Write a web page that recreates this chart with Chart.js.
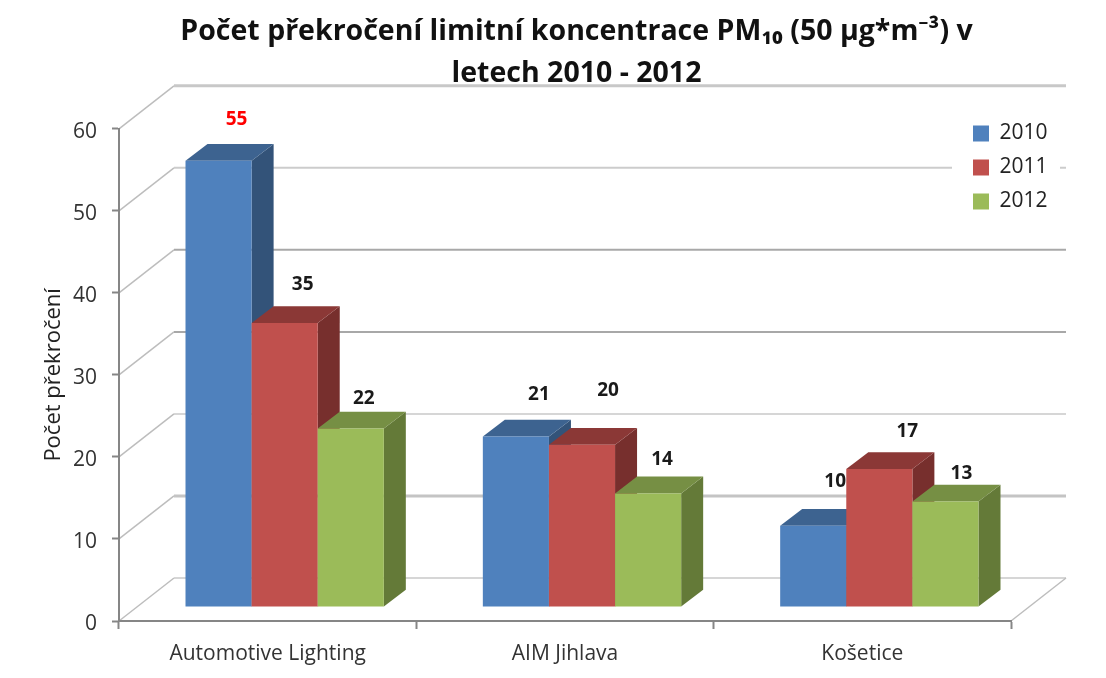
<!DOCTYPE html>
<html>
<head>
<meta charset="utf-8">
<style>
  html, body { margin: 0; background: #fff; }
  canvas { display: block; filter: blur(0.6px); }
</style>
<script src="https://cdn.jsdelivr.net/npm/chart.js@4/dist/chart.umd.min.js"></script>
</head>
<body>
<canvas id="chart" width="1106" height="678"></canvas>
<script>
const categories = ["Automotive Lighting", "AIM Jihlava", "Košetice"];
const years = ["2010", "2011", "2012"];
const values2010 = [55, 21, 10];
const values2011 = [35, 20, 17];
const values2012 = [22, 14, 13];
const yTicks = [0, 10, 20, 30, 40, 50, 60];

const FONT = '"Open Sans", "Noto Sans", "DejaVu Sans", sans-serif';

// excel-style 3d look, all offsets in px
const WALL_DX = 55;
const WALL_DY = -43;
const BAR_DX = 22;
const BAR_DY = -17;
const BAR_SHIFT_X = 17;
const BAR_SHIFT_Y = -14;
const BAR_SQUEEZE = 0.989;

const sideColors = ["#335379", "#772F2D", "#647A38"];
const topColors = ["#3D6390", "#8B3836", "#768F44"];

// the scan made the wall lines uneven, one entry per tick
const wallWidths = [1.5, 3, 1.5, 2, 2, 2, 3];
const wallColors = ["#c8c8c8", "#c4c4c4", "#c8c8c8", "#a8a8a8", "#a8a8a8", "#cccccc", "#c8c8c8"];

// hand placed data labels in the original, [dx, dy] from bar top centre
const labelNudge = [
  [[18, -41], [23, -42], [22, -44]],
  [[18, -38], [26, -54], [28, -37]],
  [[13, -30], [14, -34], [16, -28]],
];

function poly(ctx, color, pts) {
  ctx.fillStyle = color;
  ctx.beginPath();
  pts.forEach((p, i) => (i ? ctx.lineTo(p[0], p[1]) : ctx.moveTo(p[0], p[1])));
  ctx.closePath();
  ctx.fill();
}

const look3d = {
  id: "look3d",

  beforeDraw(chart) {
    const { ctx, scales, legend, titleBlock } = chart;
    const { left, right } = chart.chartArea;

    titleBlock.left = 47;
    titleBlock.right = 1106;

    legend.left = 960;
    legend.right = 1060;
    legend.top = 110;
    legend.bottom = 320;

    ctx.save();
    yTicks.forEach((tick, i) => {
      const y = scales.y.getPixelForValue(tick);
      ctx.strokeStyle = "#bdbdbd";
      ctx.lineWidth = 1.5;
      ctx.beginPath();
      ctx.moveTo(left, y);
      ctx.lineTo(left + WALL_DX, y + WALL_DY);
      ctx.stroke();
      ctx.strokeStyle = wallColors[i];
      ctx.lineWidth = wallWidths[i];
      ctx.beginPath();
      ctx.moveTo(left + WALL_DX, y + WALL_DY);
      ctx.lineTo(right + WALL_DX, y + WALL_DY);
      ctx.stroke();
    });
    const floorY = scales.y.getPixelForValue(0);
    ctx.strokeStyle = "#bdbdbd";
    ctx.lineWidth = 1.5;
    ctx.beginPath();
    ctx.moveTo(right, floorY);
    ctx.lineTo(right + WALL_DX, floorY + WALL_DY);
    ctx.stroke();
    // legend sits on a white box that hides the grid
    ctx.fillStyle = "#fff";
    ctx.fillRect(952, 120, 108, 95);
    ctx.restore();
  },

  // blue has to go down first so red and green fronts cover its side
  beforeDatasetsDraw(chart) {
    const { ctx } = chart;
    const base = chart.scales.y.getPixelForValue(0);
    chart.data.datasets.forEach((ds, i) => {
      const meta = chart.getDatasetMeta(i);
      ctx.save();
      ctx.transform(1, 0, 0, BAR_SQUEEZE, BAR_SHIFT_X, base * (1 - BAR_SQUEEZE) + BAR_SHIFT_Y);
      meta.data.forEach((bar) => {
        const l = bar.x - bar.width / 2;
        const r = bar.x + bar.width / 2;
        poly(ctx, sideColors[i], [
          [r, bar.y], [r + BAR_DX, bar.y + BAR_DY],
          [r + BAR_DX, bar.base + BAR_DY], [r, bar.base],
        ]);
        poly(ctx, topColors[i], [
          [l, bar.y], [l + BAR_DX, bar.y + BAR_DY],
          [r + BAR_DX, bar.y + BAR_DY], [r, bar.y],
        ]);
      });
      meta.controller.draw();
      ctx.restore();
    });
  },

  beforeDatasetDraw() {
    return false;
  },

  afterDatasetsDraw(chart) {
    const { ctx } = chart;
    const base = chart.scales.y.getPixelForValue(0);
    ctx.save();
    ctx.font = "bold 19px " + FONT;
    ctx.textAlign = "center";
    ctx.textBaseline = "middle";
    chart.data.datasets.forEach((ds, i) => {
      chart.getDatasetMeta(i).data.forEach((bar, j) => {
        const topY = base + (bar.y - base) * BAR_SQUEEZE + BAR_SHIFT_Y;
        const nudge = labelNudge[i][j];
        ctx.fillStyle = ds.data[j] > 50 ? "#ff0000" : "#1a1a1a";
        ctx.fillText(ds.data[j], bar.x + BAR_SHIFT_X + nudge[0], topY + nudge[1]);
      });
    });
    ctx.restore();
  },
};

new Chart(document.getElementById("chart"), {
  type: "bar",
  data: {
    labels: categories,
    datasets: [
      { label: years[0], data: values2010, backgroundColor: "#4F81BD" },
      { label: years[1], data: values2011, backgroundColor: "#C0504D" },
      { label: years[2], data: values2012, backgroundColor: "#9BBB59" },
    ],
  },
  plugins: [look3d],
  options: {
    responsive: false,
    animation: false,
    clip: false,
    categoryPercentage: 0.667,
    barPercentage: 1,
    layout: { padding: { left: 41, right: 95, top: 11, bottom: 3 } },
    plugins: {
      title: {
        display: true,
        text: ["Počet překročení limitní koncentrace PM₁₀ (50 µg*m⁻³) v", "letech 2010 - 2012"],
        color: "#111",
        font: { family: FONT, size: 28.5, weight: "bold", lineHeight: 1.47 },
        padding: { top: 0, bottom: 34 },
      },
      legend: {
        position: "chartArea",
        align: "start",
        labels: {
          color: "#222",
          font: { family: FONT, size: 21 },
          boxWidth: 16,
          boxHeight: 16,
          padding: 13,
        },
      },
      tooltip: { enabled: false },
    },
    scales: {
      x: {
        afterFit(scale) {
          scale.height = 54;
        },
        grid: { drawOnChartArea: false, color: "#868686", tickLength: 8, tickWidth: 2 },
        border: { color: "#868686", width: 2 },
        ticks: { color: "#333", font: { family: FONT, size: 21 }, padding: 12 },
      },
      y: {
        min: 0,
        max: 60,
        afterBuildTicks(scale) {
          scale.ticks = yTicks.map((value) => ({ value }));
        },
        afterFit(scale) {
          scale.width = 78;
        },
        title: {
          display: true,
          text: "Počet překročení",
          color: "#222",
          font: { family: FONT, size: 22 },
          padding: { top: 0, bottom: 2 },
        },
        grid: { drawOnChartArea: false, color: "#868686", tickLength: 7, tickWidth: 2 },
        border: { color: "#868686", width: 2 },
        ticks: { color: "#333", font: { family: FONT, size: 21 }, padding: 15, labelOffset: 3 },
      },
    },
  },
});
</script>
</body>
</html>
